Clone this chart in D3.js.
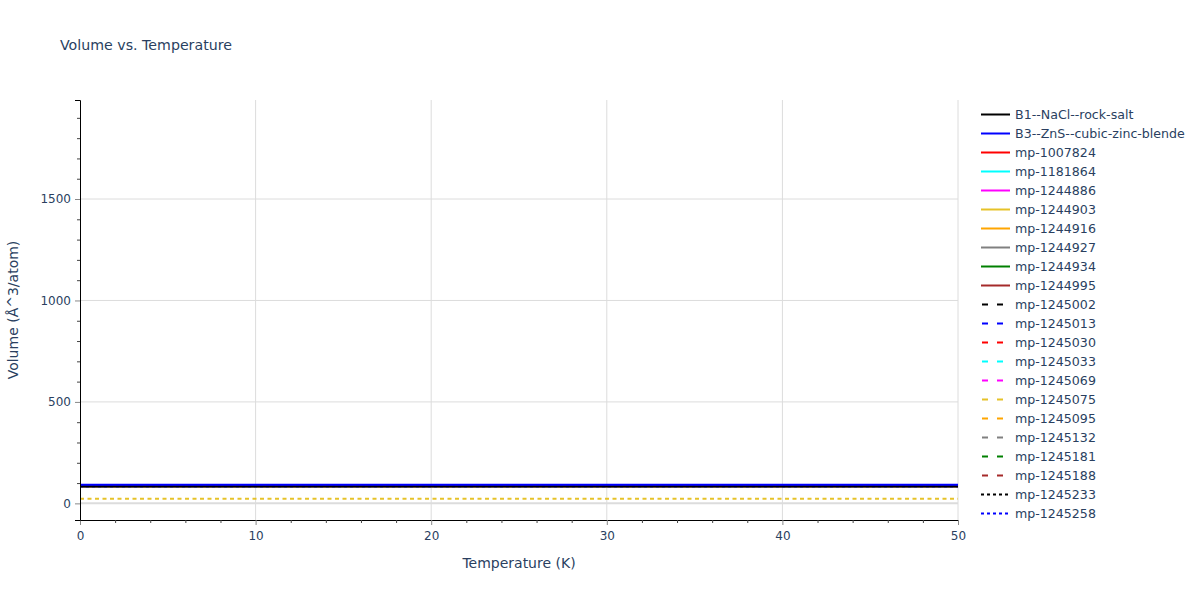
<!DOCTYPE html>
<html>
<head>
<meta charset="utf-8">
<script src="https://cdn.jsdelivr.net/npm/d3@7"></script>
<style>
  body { margin: 0; background: #fff; }
  svg text { font-family: "DejaVu Sans", Verdana, sans-serif; fill: #2a3f5f; }
</style>
</head>
<body>
<div id="chart"></div>
<script>
// temperatures (K)
const temperatures = [0, 5, 10, 15, 20, 25, 30, 35, 40, 45, 50];

// series names, colours and dash styles as in the legend
const seriesNames = ["B1--NaCl--rock-salt", "B3--ZnS--cubic-zinc-blende", "mp-1007824", "mp-1181864",
  "mp-1244886", "mp-1244903", "mp-1244916", "mp-1244927", "mp-1244934", "mp-1244995",
  "mp-1245002", "mp-1245013", "mp-1245030", "mp-1245033", "mp-1245069", "mp-1245075",
  "mp-1245095", "mp-1245132", "mp-1245181", "mp-1245188", "mp-1245233", "mp-1245258"];
const seriesColors = ["black", "blue", "red", "cyan", "magenta", "#e6c229", "orange", "gray", "green", "brown",
  "black", "blue", "red", "cyan", "magenta", "#e6c229", "orange", "gray", "green", "brown",
  "black", "blue"];
const seriesDash = ["solid", "solid", "solid", "solid", "solid", "solid", "solid", "solid", "solid", "solid",
  "dash", "dash", "dash", "dash", "dash", "dash", "dash", "dash", "dash", "dash",
  "dot", "dot"];

// volumes (Å^3/atom) – nearly flat over 0–50 K, most curves overlap
const volB1 = [84, 84, 84, 84, 84, 84, 84, 84, 84, 84, 84];
const volB3 = [92, 92, 92, 92, 92, 92, 92, 92, 92, 92, 92];
const volLow = [22.5, 22.5, 22.5, 22.5, 22.5, 22.5, 22.5, 22.5, 22.5, 22.5, 22.5];
const volMid = [83, 83, 83, 83, 83, 83, 83, 83, 83, 83, 83];
const seriesValues = [volB1, volB3, volMid, volMid, volMid, volMid, volMid, volMid, volMid, volMid,
  volMid, volMid, volMid, volMid, volMid, volLow, volMid, volMid, volMid, volMid,
  volMid, volMid];
// drawing order so the visible curves end up on top
const drawOrder = [2, 3, 4, 5, 6, 8, 9, 10, 11, 12, 13, 14, 16, 17, 18, 19, 20, 21, 15, 7, 0, 1];

const yTicks = [0, 500, 1000, 1500];
const xTicks = [0, 10, 20, 30, 40, 50];

const W = 1200, H = 600;
const margin = { top: 100, right: 242, bottom: 80, left: 80 };
const width = W - margin.left - margin.right, height = H - margin.top - margin.bottom;

const svg = d3.select("#chart").append("svg").attr("width", W).attr("height", H);
const g = svg.append("g").attr("transform", `translate(${margin.left},${margin.top})`);

const x = d3.scaleLinear().domain([0, 50]).range([0, width]);
const y = d3.scaleLinear().domain([-82, 1988]).range([height, 0]);

// grid
g.selectAll("line.xgrid").data(xTicks.slice(1)).enter().append("line")
  .attr("x1", d => x(d)).attr("x2", d => x(d)).attr("y1", 0).attr("y2", height)
  .attr("stroke", "#dcdcdc").attr("stroke-width", 1);
g.selectAll("line.ygrid").data(yTicks).enter().append("line")
  .attr("x1", 0).attr("x2", width).attr("y1", d => y(d)).attr("y2", d => y(d))
  .attr("stroke", "#dcdcdc").attr("stroke-width", d => d === 0 ? 2 : 1);

// lines
const line = d3.line().x(d => x(d[0])).y(d => y(d[1]));
const dashFor = (s, i) => i === 15 ? "4,3.5" : s === "dash" ? "9,9" : s === "dot" ? "3,3" : null;
drawOrder.forEach(i => {
  g.append("path")
    .datum(temperatures.map((t, k) => [t, seriesValues[i][k]]))
    .attr("d", line)
    .attr("fill", "none")
    .attr("stroke", seriesColors[i])
    .attr("stroke-width", 2)
    .attr("stroke-dasharray", dashFor(seriesDash[i], i));
});

// axes
const xAxis = g.append("g").attr("transform", `translate(0,${height})`)
  .call(d3.axisBottom(x).tickValues(xTicks).tickSize(5).tickPadding(6).tickFormat(d3.format("d")));
const yAxis = g.append("g")
  .call(d3.axisLeft(y).tickValues(yTicks).tickSize(5).tickPadding(4).tickFormat(d3.format("d")));
[xAxis, yAxis].forEach(a => {
  a.select(".domain").attr("stroke", "black").attr("stroke-width", 1);
  a.selectAll(".tick line").attr("stroke", "#888");
  a.selectAll(".tick text").style("font-size", "12px").attr("fill", "#2a3f5f");
});
// minor ticks
g.append("g").attr("transform", `translate(0,${height})`)
  .call(d3.axisBottom(x).tickValues(d3.range(0, 51, 2).filter(d => d % 10)).tickSize(3).tickFormat(""))
  .call(a => a.select(".domain").remove())
  .selectAll(".tick line").attr("stroke", "#444");
g.append("g")
  .call(d3.axisLeft(y).tickValues(d3.range(-0, 1990, 100).filter(d => d % 500)).tickSize(3).tickFormat(""))
  .call(a => a.select(".domain").remove())
  .selectAll(".tick line").attr("stroke", "#444");

// titles
svg.append("text").attr("x", 60).attr("y", 50).style("font-size", "14.2px").text("Volume vs. Temperature");
svg.append("text").attr("x", margin.left + width / 2).attr("y", 568).attr("text-anchor", "middle")
  .style("font-size", "14px").text("Temperature (K)");
svg.append("text").attr("transform", `translate(18,${margin.top + height / 2}) rotate(-90)`)
  .attr("text-anchor", "middle").style("font-size", "14px").text("Volume (Å^3/atom)");

// legend
const legend = svg.append("g").attr("transform", "translate(981,114.5)");
seriesNames.forEach((name, i) => {
  const it = legend.append("g").attr("transform", `translate(0,${i * 19})`);
  it.append("line").attr("x1", 0).attr("x2", 29).attr("y1", 0).attr("y2", 0)
    .attr("stroke", seriesColors[i]).attr("stroke-width", 2)
    .attr("stroke-dasharray", seriesDash[i] === "dash" ? "6,9" : seriesDash[i] === "dot" ? "3,3" : null)
    .attr("stroke-dashoffset", seriesDash[i] === "dash" ? -1 : 0);
  it.append("text").attr("x", 34).attr("y", 0).attr("dy", "0.35em").style("font-size", "12.6px").text(name);
});
</script>
</body>
</html>
